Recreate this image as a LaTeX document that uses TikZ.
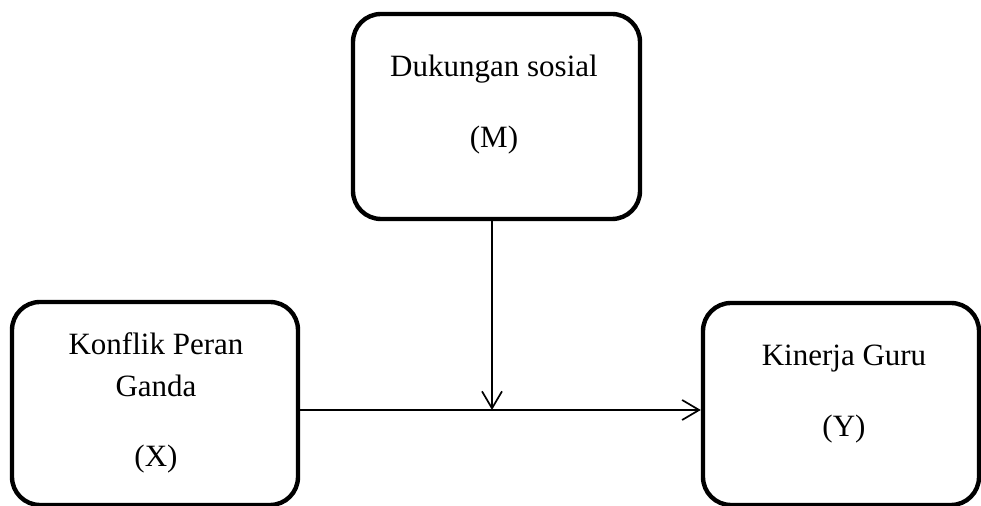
\documentclass[tikz,border=0pt]{standalone}
\usepackage{fontspec}
\setmainfont{Liberation Serif}
\usetikzlibrary{arrows.meta}
\begin{document}
\begin{tikzpicture}[x=0.5pt,y=-0.5pt,
  varbox/.style={draw=black,line width=2.2pt,rounded corners=14pt,fill=white,inner sep=0pt},
  lbl/.style={anchor=base,inner sep=0pt,font=\fontsize{15.5}{18}\selectfont},
  conn/.style={draw=black,line width=0.85pt,-{Straight Barb[length=8.5pt,width=10pt,line width=0.85pt]}}]
\useasboundingbox (0,0) rectangle (981,506);
\node[varbox,minimum width=143.5pt,minimum height=102.5pt] (M) at (496.5,116.5) {};
\node[varbox,minimum width=143pt,minimum height=101.5pt] (X) at (155,403.5) {};
\node[varbox,minimum width=138pt,minimum height=101pt] (Y) at (841,404) {};
\node[lbl] (m1) at (494,77) {Dukungan sosial};
\node[lbl] (m2) at (494,148) {(M)};
\node[lbl] (x1) at (156,355) {Konflik Peran};
\node[lbl] (x2) at (156,397) {Ganda};
\node[lbl] (x3) at (156,467) {(X)};
\node[lbl] (y1) at (844,366) {Kinerja Guru};
\node[lbl] (y2) at (844,437) {(Y)};
\coordinate (j) at (492,410);
\draw[conn] (X.east |- j) -- (Y.west |- j);
\draw[conn] (j |- M.south) -- (j);
\end{tikzpicture}
\end{document}
